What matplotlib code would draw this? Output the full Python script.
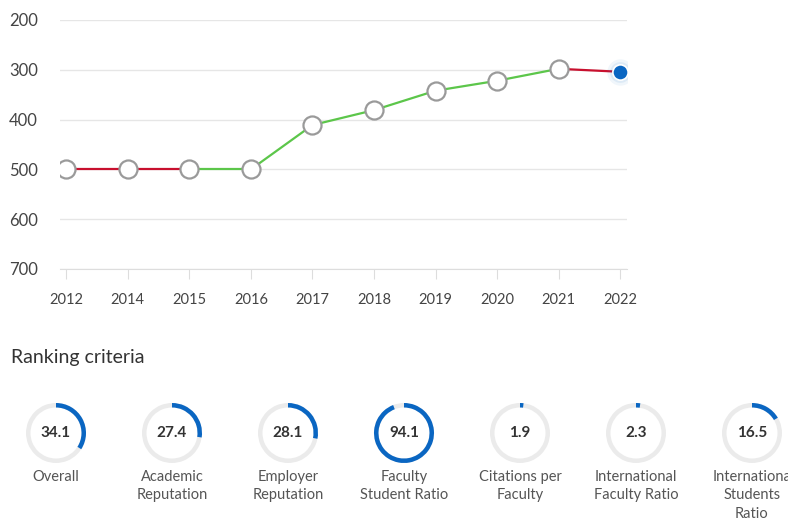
import matplotlib.pyplot as plt
from matplotlib.patches import Wedge

plt.rcParams['font.family'] = ['Lato', 'DejaVu Sans']

years = ['2012', '2014', '2015', '2016', '2017', '2018', '2019', '2020', '2021', '2022']
ranks = [500, 500, 500, 500, 411, 381, 342, 322, 298, 304]
seg_colors = ['#c8102e', '#c8102e', '#5cc64a', '#5cc64a', '#5cc64a', '#5cc64a',
              '#5cc64a', '#5cc64a', '#c8102e']

criteria = ['Overall', 'Academic\nReputation', 'Employer\nReputation',
            'Faculty\nStudent Ratio', 'Citations per\nFaculty',
            'International\nFaculty Ratio', 'Internationa\nStudents\nRatio']
scores = [34.1, 27.4, 28.1, 94.1, 1.9, 2.3, 16.5]

W, H = 788, 519
fig = plt.figure(figsize=(W / 100, H / 100), dpi=100)

# rank history chart
ax = fig.add_axes([60 / W, 1 - 269 / H, 567 / W, 249 / H])
x = list(range(len(years)))
for i in range(len(x) - 1):
    ax.plot(x[i:i + 2], ranks[i:i + 2], color=seg_colors[i], lw=1.6, zorder=2)
ax.plot(x[:-1], ranks[:-1], 'o', ms=13, mfc='white', mec='#9a9a9a', mew=1.6, zorder=3)
ax.plot(x[-1], ranks[-1], 'o', ms=19, color='#0a66c2', alpha=0.06, mew=0, zorder=3)
ax.plot(x[-1], ranks[-1], 'o', ms=15, color='#0a66c2', alpha=0.08, mew=0, zorder=3)
ax.plot(x[-1], ranks[-1], 'o', ms=11, mfc='#0a66c2', mec='white', mew=1.2, zorder=4)

ax.set_ylim(700, 200)
ax.set_xlim(-0.1, 9.11)
ax.set_yticks([200, 300, 400, 500, 600, 700])
ax.set_xticks(x)
ax.set_xticklabels(years)
ax.grid(axis='y', color='#e6e6e6', lw=1)
ax.set_axisbelow(True)
for s in ['top', 'right', 'left']:
    ax.spines[s].set_visible(False)
ax.spines['bottom'].set_color('#dddddd')
ax.tick_params(axis='y', length=0, pad=16, labelsize=12, labelcolor='#444444')
ax.tick_params(axis='x', length=7, color='#dddddd', pad=10, labelsize=10.5, labelcolor='#444444')

# ranking criteria gauges
ov = fig.add_axes([0, 0, 1, 1])
ov.set_xlim(0, W)
ov.set_ylim(H, 0)
ov.axis('off')
ov.text(11, 358, 'Ranking criteria', fontsize=14, color='#333333', va='center', ha='left')
for i, (lab, val) in enumerate(zip(criteria, scores)):
    cx, cy = 56 + i * 116, 433
    ov.add_patch(Wedge((cx, cy), 30, 0, 360, width=4.5, facecolor='#ebebeb', edgecolor='none'))
    # y axis is inverted here, so -90 points up and increasing angle runs clockwise
    ov.add_patch(Wedge((cx, cy), 30, -90, -90 + 360 * val / 100, width=4.5,
                       facecolor='#0a66c2', edgecolor='none'))
    ov.text(cx, cy, f'{val}', fontsize=11, fontweight='bold', color='#333333',
            ha='center', va='center')
    ov.text(cx, 470, lab, fontsize=10.5, color='#555555', ha='center', va='top', linespacing=1.4)

fig.savefig('out.png', dpi=100)
